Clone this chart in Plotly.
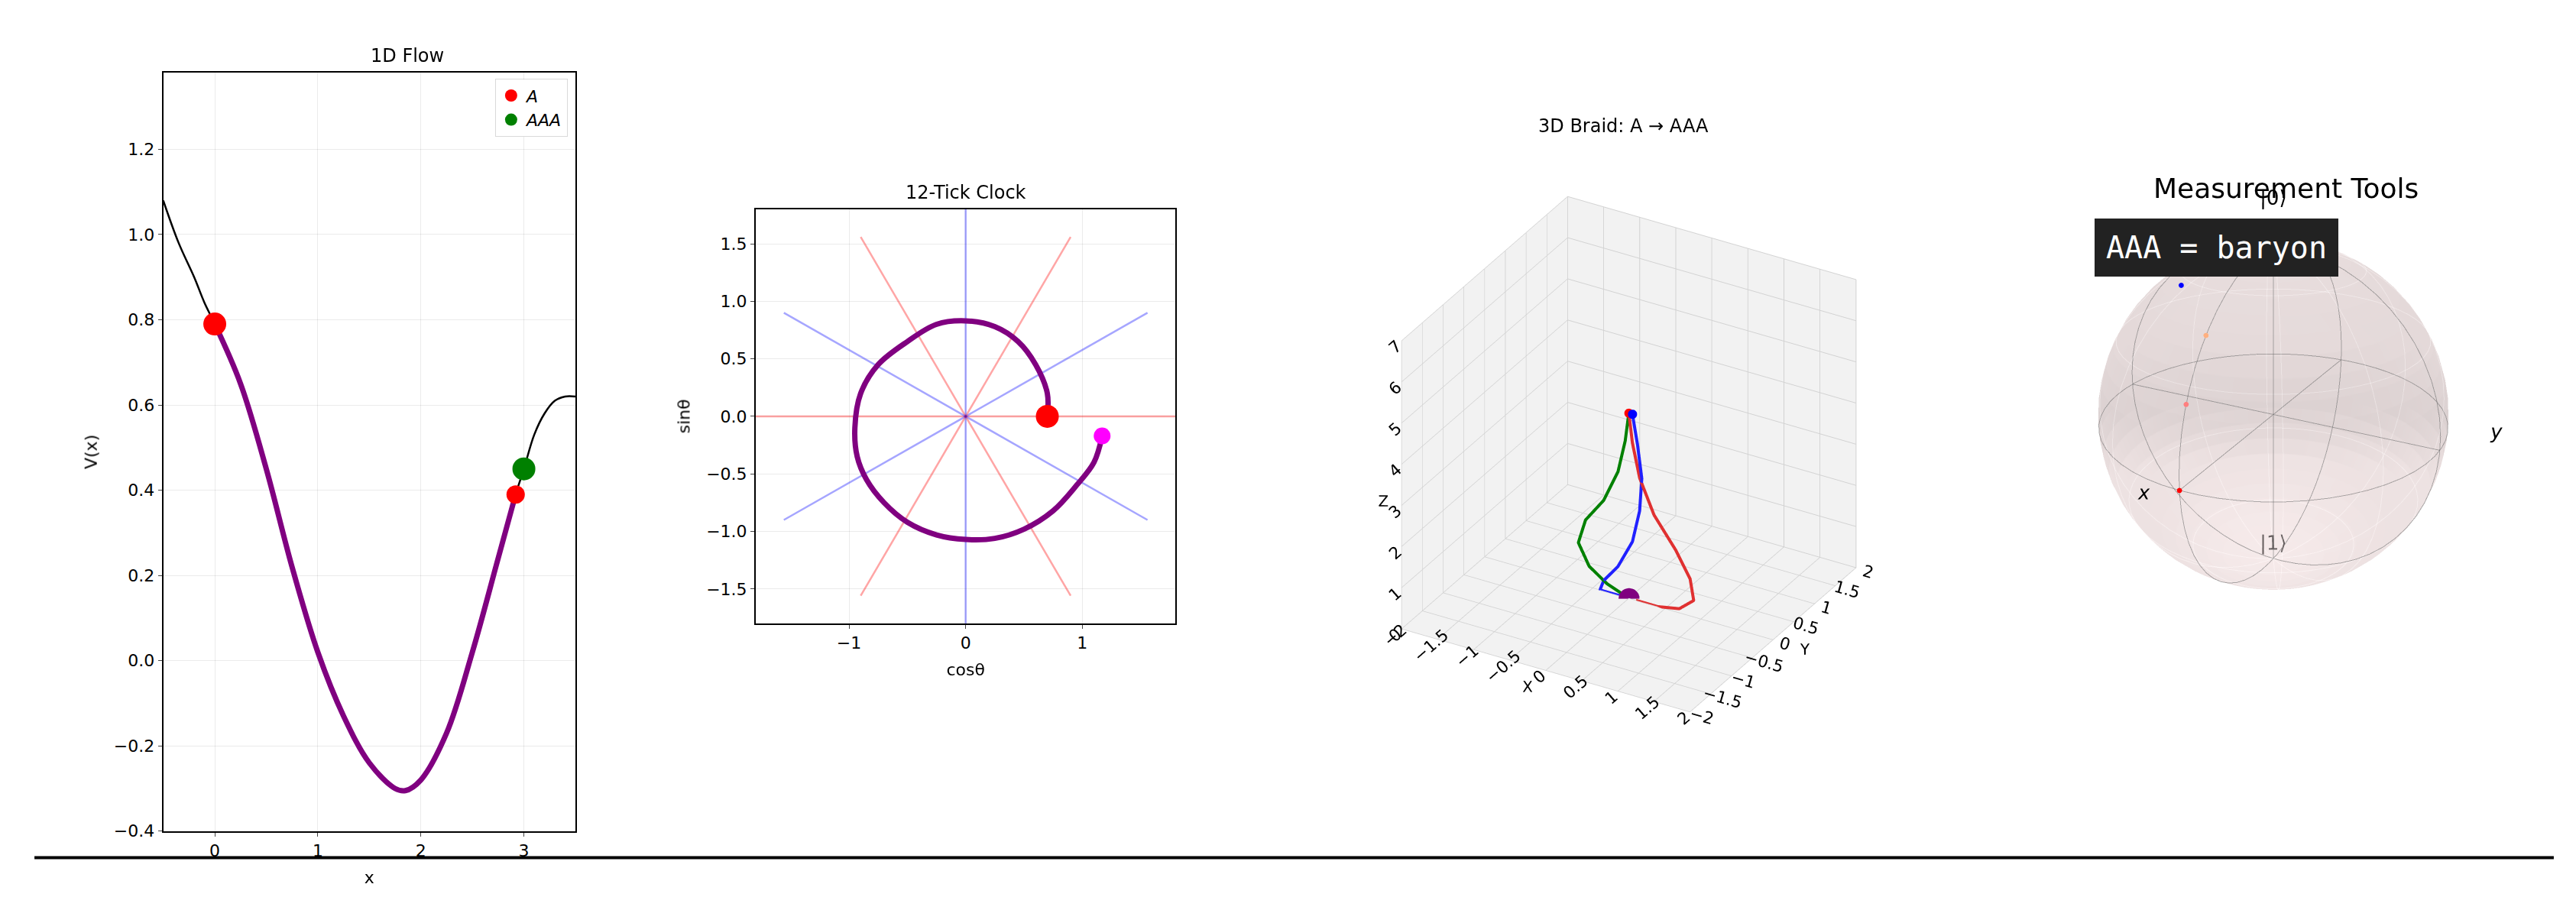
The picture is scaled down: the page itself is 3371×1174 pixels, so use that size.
import numpy as np
import plotly.graph_objects as go

# ---- panel 1: 1D flow
flow_x = [-0.5, -0.35, -0.2, -0.1, 0.0, 0.25, 0.5, 0.75, 1.0, 1.25, 1.5, 1.75, 1.85, 2.0, 2.25, 2.5, 2.75, 2.92, 3.0, 3.1, 3.2, 3.3, 3.4, 3.5]
flow_v = [1.08, 0.98, 0.9, 0.84, 0.79, 0.65, 0.45, 0.22, 0.02, -0.13, -0.24, -0.3, -0.305, -0.28, -0.17, 0.02, 0.24, 0.39, 0.45, 0.53, 0.58, 0.61, 0.62, 0.62]
path_x = flow_x[4:18]
path_v = flow_v[4:18]

# ---- panel 2: clock spiral
spiral_x = [0.7, 0.7, 0.6, 0.45, 0.25, 0.0, -0.25, -0.5, -0.75, -0.9, -0.95, -0.93, -0.85, -0.7, -0.5, -0.25, 0.0, 0.25, 0.5, 0.75, 0.95, 1.1, 1.17]
spiral_y = [0.0, 0.2, 0.45, 0.65, 0.78, 0.83, 0.8, 0.65, 0.45, 0.2, -0.1, -0.35, -0.55, -0.75, -0.92, -1.03, -1.07, -1.06, -0.98, -0.82, -0.6, -0.4, -0.17]
tick_angles = [0, 30, 60, 90, 120, 150]
tick_colors = ['red', 'blue', 'red', 'blue', 'red', 'blue']

# ---- panel 3: braid strands
red_x = [0.0, 0.05, 0.15, 0.35, 0.65, 0.85, 0.9, 0.7, 0.4, 0.1]
red_z = [4.5, 3.8, 3.0, 2.2, 1.5, 0.9, 0.4, 0.1, 0.0, 0.0]
green_x = [0.0, -0.05, -0.15, -0.35, -0.6, -0.7, -0.55, -0.3, 0.0]
green_z = [4.5, 3.8, 3.0, 2.2, 1.6, 1.0, 0.5, 0.2, 0.0]
blue_x = [0.05, 0.12, 0.18, 0.15, 0.05, -0.15, -0.35, -0.4, 0.0]
blue_z = [4.5, 3.8, 3.0, 2.2, 1.4, 0.7, 0.25, 0.0, 0.0]

# ---- panel 4: bloch points (theta from +z, on the x meridian)
bloch_theta = [90, 65, 45]
bloch_colors = ['red', '#ff7f7f', '#ffb080']

fig = go.Figure()

# panel 1
fig.add_trace(go.Scatter(x=flow_x, y=flow_v, mode='lines', line=dict(color='black', width=2.5),
                         showlegend=False, xaxis='x', yaxis='y', line_shape='spline'))
fig.add_trace(go.Scatter(x=path_x, y=path_v, mode='lines', line=dict(color='purple', width=7),
                         showlegend=False, xaxis='x', yaxis='y', line_shape='spline'))
fig.add_trace(go.Scatter(x=[0.0], y=[0.79], mode='markers', marker=dict(color='red', size=30),
                         name='<i>A</i>', xaxis='x', yaxis='y'))
fig.add_trace(go.Scatter(x=[3.0], y=[0.45], mode='markers', marker=dict(color='green', size=30),
                         name='<i>AAA</i>', xaxis='x', yaxis='y'))
fig.add_trace(go.Scatter(x=[2.92], y=[0.39], mode='markers', marker=dict(color='red', size=24),
                         showlegend=False, xaxis='x', yaxis='y'))

# panel 2
for a, c in zip(tick_angles, tick_colors):
    t = np.deg2rad(a)
    fig.add_trace(go.Scatter(x=[-1.8 * np.cos(t), 1.8 * np.cos(t)], y=[-1.8 * np.sin(t), 1.8 * np.sin(t)],
                             mode='lines', line=dict(color=c, width=2.5), opacity=0.35,
                             showlegend=False, xaxis='x2', yaxis='y2'))
fig.add_trace(go.Scatter(x=spiral_x, y=spiral_y, mode='lines', line=dict(color='purple', width=7),
                         line_shape='spline', showlegend=False, xaxis='x2', yaxis='y2'))
fig.add_trace(go.Scatter(x=[spiral_x[0]], y=[spiral_y[0]], mode='markers', marker=dict(color='red', size=30),
                         showlegend=False, xaxis='x2', yaxis='y2'))
fig.add_trace(go.Scatter(x=[spiral_x[-1]], y=[spiral_y[-1]], mode='markers', marker=dict(color='magenta', size=22),
                         showlegend=False, xaxis='x2', yaxis='y2'))

# panel 3
for xs, zs, c in [(red_x, red_z, '#e03030'), (green_x, green_z, 'green'), (blue_x, blue_z, '#2020ff')]:
    fig.add_trace(go.Scatter3d(x=xs, y=[0] * len(xs), z=zs, mode='lines', line=dict(color=c, width=8),
                               showlegend=False, scene='scene'))
fig.add_trace(go.Scatter3d(x=[0.0, 0.05], y=[0, 0], z=[4.5, 4.5], mode='markers',
                           marker=dict(color=['red', 'blue'], size=7), showlegend=False, scene='scene'))
fig.add_trace(go.Scatter3d(x=[0.0], y=[0], z=[0.0], mode='markers',
                           marker=dict(color='purple', size=16), showlegend=False, scene='scene'))

# panel 4: bloch sphere
u = np.linspace(0, 2 * np.pi, 60)
v = np.linspace(0, np.pi, 30)
sx = np.outer(np.cos(u), np.sin(v))
sy = np.outer(np.sin(u), np.sin(v))
sz = np.outer(np.ones_like(u), np.cos(v))
fig.add_trace(go.Surface(x=sx, y=sy, z=sz, colorscale=[[0, '#f3e3e3'], [1, '#f3e3e3']], opacity=0.5,
                         showscale=False, scene='scene2', hoverinfo='skip',
                         lighting=dict(ambient=0.85, diffuse=0.4, specular=0.05)))
wire = []
for lat in [-60, -30, 0, 30, 60]:
    r = np.cos(np.deg2rad(lat))
    wire.append((r * np.cos(u), r * np.sin(u), np.full_like(u, np.sin(np.deg2rad(lat))), 0 if lat else 1))
for lon in [0, 30, 60, 90, 120, 150]:
    p = np.deg2rad(lon)
    wire.append((np.cos(p) * np.sin(u), np.sin(p) * np.sin(u), np.cos(u), 1 if lon in (0, 90) else 0))
for wx, wy, wz, strong in wire:
    fig.add_trace(go.Scatter3d(x=wx, y=wy, z=wz, mode='lines',
                               line=dict(color='rgba(60,60,60,%s)' % (0.55 if strong else 0.22), width=2),
                               showlegend=False, scene='scene2', hoverinfo='skip'))
for ax3 in range(3):
    seg = [[0, 0], [0, 0], [0, 0]]
    seg[ax3] = [-1, 1]
    fig.add_trace(go.Scatter3d(x=seg[0], y=seg[1], z=seg[2], mode='lines',
                               line=dict(color='rgba(60,60,60,0.55)', width=2),
                               showlegend=False, scene='scene2', hoverinfo='skip'))
bt = np.deg2rad(bloch_theta)
fig.add_trace(go.Scatter3d(x=np.sin(bt), y=[0] * 3, z=np.cos(bt), mode='markers',
                           marker=dict(color=bloch_colors, size=4), showlegend=False, scene='scene2'))
fig.add_trace(go.Scatter3d(x=[0.45], y=[-0.3], z=[0.85], mode='markers',
                           marker=dict(color='blue', size=4), showlegend=False, scene='scene2'))
fig.add_trace(go.Scatter3d(x=[1.3, 0, 0, 0], y=[0, 1.3, 0, 0], z=[0, 0, 1.08, -1.12], mode='text',
                           text=['<i>x</i>', '<i>y</i>', '|0⟩', '|1⟩'], textfont=dict(size=26, color='black'),
                           showlegend=False, scene='scene2'))

ax_common = dict(showline=True, linecolor='black', linewidth=2, mirror=True, ticks='outside',
                 gridcolor='rgba(0,0,0,0.08)', zeroline=False, tickfont=dict(size=22),
                 title_font=dict(size=22))
scene_ax = dict(backgroundcolor='rgb(242,242,242)', gridcolor='rgb(210,210,210)', showbackground=True,
                tickfont=dict(size=16), zeroline=False, title_font=dict(size=20))
hidden = dict(visible=False, showbackground=False)

fig.update_layout(
    width=3371, height=1174, paper_bgcolor='white', plot_bgcolor='white',
    font=dict(family='DejaVu Sans', color='black'),
    margin=dict(l=0, r=0, t=0, b=0),
    xaxis=dict(domain=[0.061, 0.221], range=[-0.5, 3.5], dtick=1, title='x', anchor='y', **ax_common),
    yaxis=dict(domain=[0.07, 0.925], range=[-0.4, 1.38], dtick=0.2, tickformat='.1f', title='V(x)',
               anchor='x', **ax_common),
    xaxis2=dict(domain=[0.291, 0.454], range=[-1.8, 1.8], dtick=1, title='cosθ', anchor='y2', **ax_common),
    yaxis2=dict(domain=[0.304, 0.771], range=[-1.8, 1.8], dtick=0.5, tickformat='.1f', title='sinθ',
                anchor='x2', **ax_common),
    legend=dict(x=0.218, y=0.918, xanchor='right', yanchor='top', bordercolor='rgba(0,0,0,0.15)',
                borderwidth=1, font=dict(size=22), itemsizing='trace'),
    scene=dict(domain=dict(x=[0.51, 0.75], y=[0.12, 0.87]),
               xaxis=dict(range=[-2, 2], dtick=0.5, title='X', **scene_ax),
               yaxis=dict(range=[-2, 2], dtick=0.5, title='Y', **scene_ax),
               zaxis=dict(range=[0, 7], dtick=1, title='Z', **scene_ax),
               aspectmode='cube',
               camera=dict(eye=dict(x=0.95, y=-1.65, z=1.1), projection=dict(type='orthographic'))),
    scene2=dict(domain=dict(x=[0.77, 0.99], y=[0.14, 0.94]),
                xaxis=dict(range=[-1.3, 1.3], **hidden), yaxis=dict(range=[-1.3, 1.3], **hidden),
                zaxis=dict(range=[-1.3, 1.3], **hidden),
                aspectmode='cube', camera=dict(eye=dict(x=1.55, y=0.8, z=0.8))),
    annotations=[
        dict(text='1D Flow', x=0.141, y=0.93, xref='paper', yref='paper', showarrow=False,
             yanchor='bottom', font=dict(size=24)),
        dict(text='12-Tick Clock', x=0.3725, y=0.776, xref='paper', yref='paper', showarrow=False,
             yanchor='bottom', font=dict(size=24)),
        dict(text='3D Braid: A → AAA', x=0.628, y=0.865, xref='paper', yref='paper', showarrow=False,
             xanchor='center', yanchor='middle', font=dict(size=24)),
        dict(text='Measurement Tools', x=0.885, y=0.795, xref='paper', yref='paper', showarrow=False,
             xanchor='center', yanchor='middle', font=dict(size=36)),
        dict(text='AAA = baryon', x=0.858, y=0.728, xref='paper', yref='paper', showarrow=False,
             xanchor='center', yanchor='middle', font=dict(size=40, color='white', family='DejaVu Sans Mono'),
             bgcolor='#222222', borderpad=14, bordercolor='#222222'),
    ],
    shapes=[dict(type='line', xref='paper', yref='paper', x0=0.011, x1=0.989, y0=0.04, y1=0.04,
                 line=dict(color='black', width=4))],
)

fig.write_html("out.html")
